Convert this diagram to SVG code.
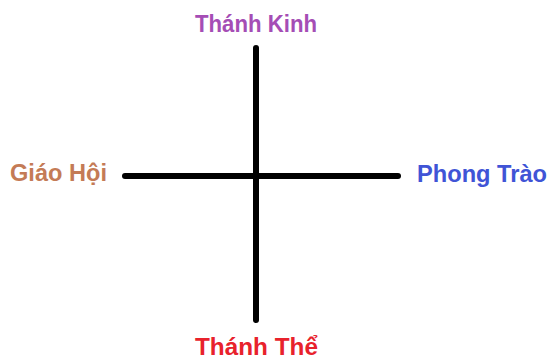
<svg xmlns="http://www.w3.org/2000/svg" width="549" height="360" viewBox="0 0 549 360">
<style>
.lbl{font-family:"Liberation Sans",Arial,sans-serif;font-weight:bold;font-size:23px;text-anchor:middle}
.ln{stroke:#000;stroke-width:6;stroke-linecap:round;fill:none}
</style>
<rect width="549" height="360" fill="#fff"/>
<g id="connectors">
<line class="ln" x1="256" y1="48" x2="256" y2="320"/>
<line class="ln" x1="125" y1="176" x2="398" y2="176"/>
</g>
<g id="thanh-kinh"><text class="lbl" x="256" y="32" fill="#a54db5" textLength="122" lengthAdjust="spacingAndGlyphs">Thánh Kinh</text></g>
<g id="giao-hoi"><text class="lbl" x="58.5" y="181" fill="#c47b56" textLength="97" lengthAdjust="spacingAndGlyphs">Giáo Hội</text></g>
<g id="phong-trao"><text class="lbl" x="482" y="182" fill="#4054d6" textLength="130" lengthAdjust="spacingAndGlyphs">Phong Trào</text></g>
<g id="thanh-the"><text class="lbl" x="256.5" y="355" fill="#e8222c" textLength="123" lengthAdjust="spacingAndGlyphs">Thánh Thể</text></g>
</svg>
